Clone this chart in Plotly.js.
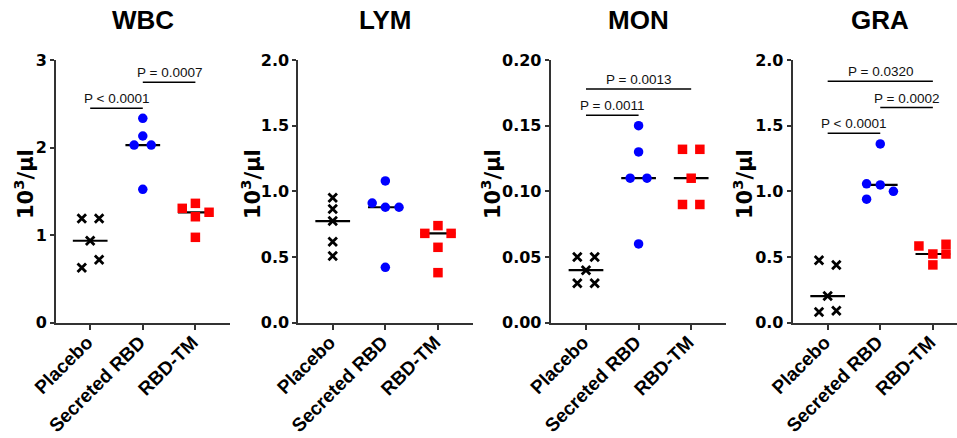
<!DOCTYPE html>
<html><head><meta charset="utf-8">
<script src="https://cdn.plot.ly/plotly-3.0.1.min.js"></script>
<style>html,body{margin:0;padding:0;background:#fff}#chart{width:957px;height:438px}</style>
</head><body><div id="chart"></div>
<script>
// ---- data ----
const groups = ["Placebo", "Secreted RBD", "RBD-TM"];
const panelNames = ["WBC", "LYM", "MON", "GRA"];

const WBC_placebo  = [1.19, 1.19, 0.936, 0.72, 0.628];
const WBC_secreted = [2.334, 2.132, 2.029, 2.029, 1.523];
const WBC_tm       = [1.306, 1.363, 1.261, 1.21, 0.975];

const LYM_placebo  = [0.952, 0.866, 0.774, 0.617, 0.508];
const LYM_secreted = [1.079, 0.911, 0.879, 0.879, 0.422];
const LYM_tm       = [0.739, 0.68, 0.68, 0.574, 0.381];

const MON_placebo  = [0.05, 0.05, 0.04, 0.03, 0.03];
const MON_secreted = [0.15, 0.13, 0.11, 0.11, 0.06];
const MON_tm       = [0.132, 0.132, 0.11, 0.09, 0.09];

const GRA_placebo  = [0.475, 0.44, 0.203, 0.081, 0.091];
const GRA_secreted = [1.361, 1.057, 1.049, 1.0, 0.94];
const GRA_tm       = [0.584, 0.597, 0.523, 0.523, 0.44];

// P-value brackets
const WBC_pLabels = ["P < 0.0001", "P = 0.0007"];
const WBC_pFrom = [0, 1], WBC_pTo = [1, 2], WBC_pY = [2.448, 2.746];
const LYM_pLabels = [], LYM_pFrom = [], LYM_pTo = [], LYM_pY = [];
const MON_pLabels = ["P = 0.0011", "P = 0.0013"];
const MON_pFrom = [0, 0], MON_pTo = [1, 2], MON_pY = [0.158, 0.178];
const GRA_pLabels = ["P < 0.0001", "P = 0.0002", "P = 0.0320"];
const GRA_pFrom = [0, 1, 0], GRA_pTo = [1, 2, 2], GRA_pY = [1.442, 1.638, 1.838];

// y axes tick labels
const WBC_ticks = [0, 1, 2, 3];
const LYM_ticks = [0, 0.5, 1.0, 1.5, 2.0];
const MON_ticks = [0, 0.05, 0.10, 0.15, 0.20];
const GRA_ticks = [0, 0.5, 1.0, 1.5, 2.0];

// ---- positions (scatter-dot horizontal spread, in category units) ----
const WBC_dx = [[-0.16, 0.17, 0, 0.17, -0.16], [0, 0, -0.165, 0.16, 0], [-0.25, 0, 0.26, 0, 0]];
const LYM_dx = [[0, 0, 0, 0, 0], [0, -0.25, 0, 0.26, 0], [0, -0.25, 0.25, 0, 0]];
const MON_dx = [[-0.165, 0.165, 0, -0.165, 0.165], [0, 0, -0.16, 0.16, 0], [-0.165, 0.165, 0, -0.165, 0.165]];
const GRA_dx = [[-0.165, 0.165, 0, -0.165, 0.165], [0, -0.26, 0, 0.25, -0.26], [-0.265, 0.25, 0, 0.25, 0]];

const W = 957, H = 438;
const FONT = "Liberation Sans, Arial, Helvetica, sans-serif";
const TICKFONT = "DejaVu Sans, Liberation Sans, Arial, sans-serif";
const panels = [
  {name: "WBC", vals: [WBC_placebo, WBC_secreted, WBC_tm], dx: WBC_dx, ticks: WBC_ticks, fmt: "d", range: [0, 3],
   p: [WBC_pLabels, WBC_pFrom, WBC_pTo, WBC_pY], px: [56, 230], xr: [-0.65, 2.658], titleX: 24},
  {name: "LYM", vals: [LYM_placebo, LYM_secreted, LYM_tm], dx: LYM_dx, ticks: LYM_ticks, fmt: ".1f", range: [0, 2],
   p: [LYM_pLabels, LYM_pFrom, LYM_pTo, LYM_pY], px: [298.3, 472.7], xr: [-0.654, 2.66], titleX: 251},
  {name: "MON", vals: [MON_placebo, MON_secreted, MON_tm], dx: MON_dx, ticks: MON_ticks, fmt: ".2f", range: [0, 0.2],
   p: [MON_pLabels, MON_pFrom, MON_pTo, MON_pY], px: [550.7, 726], xr: [-0.671, 2.662], titleX: 491},
  {name: "GRA", vals: [GRA_placebo, GRA_secreted, GRA_tm], dx: GRA_dx, ticks: GRA_ticks, fmt: ".1f", range: [0, 2],
   p: [GRA_pLabels, GRA_pFrom, GRA_pTo, GRA_pY], px: [792.7, 957], xr: [-0.665, 2.459], titleX: 743}
];

const markerStyles = [
  {symbol: "x-thin", size: 8.5, color: "#000", line: {color: "#000", width: 2.8}},
  {symbol: "circle", size: 9.5, color: "#0000ff", line: {width: 0}},
  {symbol: "square", size: 9.5, color: "#ff0000", line: {width: 0}}
];

function median(a) { const s = a.slice().sort((p, q) => p - q); const m = Math.floor(s.length / 2); return s.length % 2 ? s[m] : (s[m - 1] + s[m]) / 2; }

const traces = [], shapes = [], annotations = [];
const layout = {
  width: W, height: H, margin: {l: 0, r: 0, t: 0, b: 0},
  paper_bgcolor: "#fff", plot_bgcolor: "rgba(0,0,0,0)", showlegend: false,
  font: {family: FONT, color: "#000"}
};
const yTop = 60, yBot = 322.7;

panels.forEach((pn, i) => {
  const k = i === 0 ? "" : String(i + 1);
  const xa = "x" + k, ya = "y" + k;
  layout["xaxis" + k] = {
    domain: [pn.px[0] / W, pn.px[1] / W], range: pn.xr, anchor: ya,
    tickvals: [0, 1, 2], ticktext: groups, tickangle: -45,
    tickfont: {family: FONT, size: 19, weight: "bold", color: "#000"},
    ticklabelstandoff: -6, ticklabelshift: -3,
    showline: true, linecolor: "#333", linewidth: 2, ticks: "outside", ticklen: 5, tickwidth: 2, tickcolor: "#333",
    showgrid: false, zeroline: false, fixedrange: true
  };
  layout["yaxis" + k] = {
    domain: [1 - yBot / H, 1 - yTop / H], range: pn.range, anchor: xa,
    tickvals: pn.ticks, tickformat: pn.fmt,
    tickfont: {family: TICKFONT, size: 16, weight: "bold", color: "#000"},
    showline: true, linecolor: "#333", linewidth: 2, ticks: "outside", ticklen: 4, tickwidth: 2, tickcolor: "#333",
    showgrid: false, zeroline: false, fixedrange: true
  };
  // medians
  pn.vals.forEach((v, g) => {
    const m = median(v);
    traces.push({x: [g - 0.33, g + 0.33], y: [m, m], xaxis: xa, yaxis: ya, mode: "lines",
      line: {color: "#000", width: 2.2}, hoverinfo: "skip"});
  });
  // points
  pn.vals.forEach((v, g) => {
    traces.push({x: v.map((_, j) => g + pn.dx[g][j]), y: v, xaxis: xa, yaxis: ya, mode: "markers",
      marker: markerStyles[g], name: groups[g], cliponaxis: false});
  });
  // p-value brackets
  const [labs, from, to, ys] = pn.p;
  labs.forEach((t, j) => {
    shapes.push({type: "line", xref: xa, yref: ya, x0: from[j], x1: to[j], y0: ys[j], y1: ys[j],
      line: {color: "#000", width: 1.5}});
    annotations.push({xref: xa, yref: ya, x: (from[j] + to[j]) / 2, y: ys[j], text: t, showarrow: false,
      yanchor: "bottom", xanchor: "center", yshift: 0,
      font: {family: FONT, size: 13.5, color: "#111"}});
  });
  // panel title
  annotations.push({xref: xa, yref: "paper", x: 1, y: 1 - 19.7 / H, text: pn.name, showarrow: false,
    xanchor: "center", yanchor: "middle", font: {family: FONT, size: 26, weight: "bold", color: "#000"}});
  // y-axis title
  annotations.push({xref: "paper", yref: "paper", x: pn.titleX / W, y: 1 - 184 / H, text: "10<sup>3</sup>/μl",
    textangle: -90, showarrow: false, xanchor: "center", yanchor: "middle",
    font: {family: TICKFONT, size: 21, weight: "bold", color: "#000"}});
});
layout.shapes = shapes;
layout.annotations = annotations;

Plotly.newPlot("chart", traces, layout, {displayModeBar: false, staticPlot: true});
</script>
</body></html>
